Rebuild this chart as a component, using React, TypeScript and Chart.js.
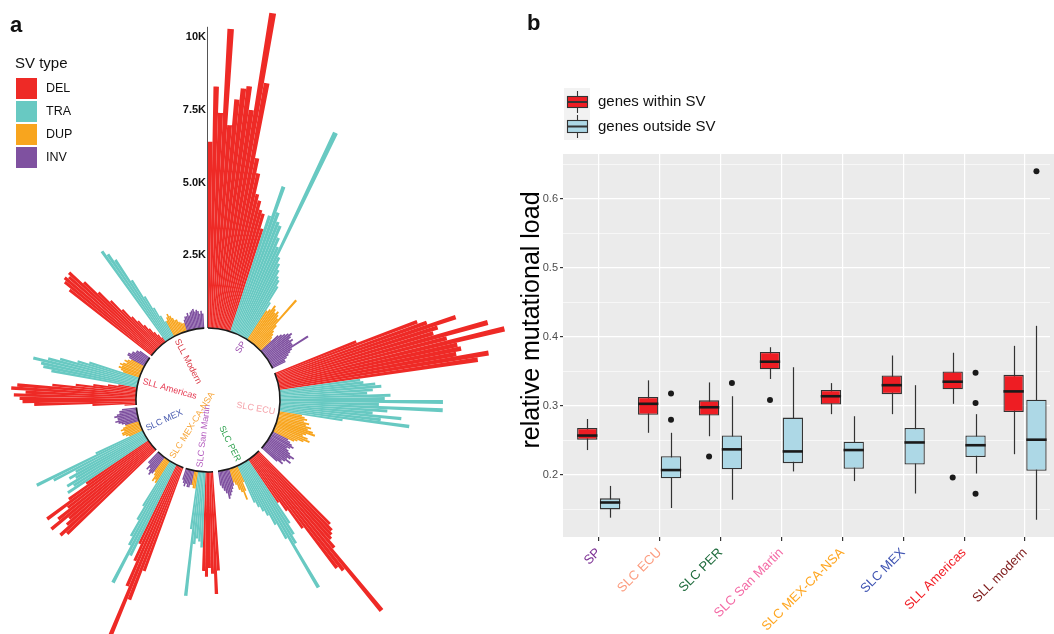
import React, { useEffect, useRef } from 'react';
import { Chart, registerables } from 'chart.js';
Chart.register(...registerables);

const FONT = '"Liberation Sans", Arial, Helvetica, sans-serif';
Chart.defaults.font.family = FONT;

// ---------------- Panel a data (values in thousands) ----------------
const GROUPS = ['SP', 'SLC ECU', 'SLC PER', 'SLC San Martin', 'SLC MEX-CA-NSA', 'SLC MEX', 'SLL Americas', 'SLL Modern'];
const GROUP_LABEL_COLORS = ['#9B4DAE', '#F5A3AA', '#33A352', '#B35BBE', '#F7A63A', '#4A5CB0', '#E63A52', '#DA3A46'];
const SV_TYPES = ['DEL', 'TRA', 'DUP', 'INV'];
const SV_COLORS = ['#EE2A26', '#68C9C2', '#F8A51E', '#7F51A0'];

const DEL_K = [
  [6.4, 8.3, 7.4, 10.3, 7.0, 7.9, 8.3, 8.4, 7.6, 11.0, 8.6, 6.0, 5.5, 4.8, 4.6, 4.3, 4.2, 3.7],
  [3.0, 5.2, 5.5, 6.5, 5.8, 5.6, 7.5, 6.0, 8.0, 6.3, 6.4, 6.2, 7.3, 6.9],
  [3.5, 3.7, 3.8, 3.9, 4.2, 6.9, 5.0, 4.8, 3.0, 2.2, 1.8],
  [3.4, 4.2, 3.5, 3.3, 3.6, 3.4],
  [3.8, 4.9, 6.3, 4.5, 3.6, 3.0],
  [4.2, 4.4, 4.0, 3.8, 4.5, 4.1, 3.6, 4.4, 3.4, 2.6],
  [0.4, 1.5, 3.5, 3.9, 4.0, 4.2, 3.8, 4.3, 4.1, 2.9, 2.1, 1.5, 1.0, 0.65],
  [3.6, 3.9, 4.0, 3.9, 4.0, 3.4, 2.8, 2.3, 1.8, 1.4, 1.15, 0.9, 0.7, 0.5, 0.35, 0.2],
];
const TRA_K = [
  [4.2, 5.3, 4.4, 4.1, 4.0, 3.6, 3.3, 7.7, 3.0, 2.8, 2.6, 2.4, 2.3, 2.1, 1.5],
  [2.8, 2.9, 3.3, 3.5, 3.2, 3.0, 3.8, 3.6, 5.6, 3.4, 5.6, 3.7, 3.2, 4.2, 3.5, 4.5, 2.2],
  [2.6, 3.0, 3.3, 5.0, 3.0, 2.4, 2.0, 1.8, 1.6, 1.4],
  [2.6, 2.4, 2.3, 2.5, 4.3, 2.0],
  [3.5, 4.6, 3.2, 2.9, 2.3, 1.8],
  [3.3, 3.0, 3.2, 2.8, 3.0, 2.7, 3.5, 4.1, 1.8],
  [3.0, 3.3, 3.4, 3.7, 3.2, 2.8, 2.2, 1.8],
  [3.8, 3.6, 3.3, 2.4, 1.7, 1.2, 0.85, 0.6],
];
const DUP_K = [
  [1.2, 1.3, 1.5, 1.4, 1.3, 1.4, 1.3, 1.2, 2.1, 1.0, 0.8, 0.7, 0.6, 0.5],
  [0.8, 0.9, 1.0, 0.9, 1.1, 1.0, 1.2, 1.1, 1.3, 1.4, 1.1, 1.0, 1.2, 1.3, 1.1, 0.9, 0.8],
  [0.6, 0.9, 1.2, 0.9, 0.8, 0.6, 0.5],
  [0.6, 0.6, 0.5],
  [0.9, 0.8, 0.9, 0.7, 0.6],
  [0.5, 0.6, 0.7, 0.7, 0.6, 0.7, 0.6, 0.5],
  [0.6, 0.7, 0.8, 0.7, 0.8, 0.7, 0.6, 0.7, 0.6, 0.5],
  [0.6, 0.7, 0.8, 0.7, 0.6, 0.5, 0.5, 0.4, 0.35, 0.3, 0.3],
];
const INV_K = [
  [0.8, 0.9, 1.0, 1.1, 1.2, 1.1, 1.0, 1.1, 1.0, 1.0, 1.6, 0.9, 0.8, 0.7, 0.6, 0.5, 0.5],
  [0.6, 0.7, 0.8, 0.9, 0.8, 0.7, 0.8, 0.9, 1.1, 1.0, 0.9, 1.1, 0.9, 0.8, 0.9, 0.7],
  [0.6, 0.7, 0.8, 0.9, 1.0, 0.8, 0.7, 0.6, 0.5],
  [0.5, 0.6, 0.6, 0.5, 0.6, 0.5, 0.4],
  [0.7, 0.8, 0.7, 0.6, 0.7, 0.5, 0.5],
  [0.5, 0.6, 0.7, 0.8, 0.7, 0.7, 0.8, 0.7, 0.6, 0.6, 0.5],
  [0.6, 0.7, 0.7, 0.6, 0.6, 0.5, 0.5, 0.4],
  [0.4, 0.5, 0.5, 0.6, 0.5, 0.6, 0.65, 0.7, 0.6, 0.65, 0.6, 0.5, 0.6, 0.5],
];
const GAP_AFTER = [4, 3, 4, 2, 2, 2, 2, 3];
const RADIAL_TICKS = [2.5, 5, 7.5, 10];
const RADIAL_TICK_LABELS = ['2.5K', '5.0K', '7.5K', '10K'];
const AXIS_TOP_K = 10.35;

// ---------------- Panel b data ----------------
const CATS = ['SP', 'SLC ECU', 'SLC PER', 'SLC San Martin', 'SLC MEX-CA-NSA', 'SLC MEX', 'SLL Americas', 'SLL modern'];
const CAT_COLORS = ['#7B2F93', '#FC9C7F', '#1E6B3C', '#F46BA6', '#FFA620', '#4055B3', '#F21F26', '#7F1D1D'];

const WITHIN_MIN = [0.236, 0.261, 0.256, 0.339, 0.288, 0.288, 0.303, 0.230];
const WITHIN_Q1 = [0.251, 0.287, 0.286, 0.353, 0.302, 0.317, 0.324, 0.291];
const WITHIN_MED = [0.257, 0.303, 0.298, 0.364, 0.314, 0.330, 0.335, 0.321];
const WITHIN_Q3 = [0.268, 0.313, 0.308, 0.378, 0.323, 0.344, 0.350, 0.345];
const WITHIN_MAX = [0.281, 0.337, 0.334, 0.385, 0.333, 0.373, 0.377, 0.387];
const WITHIN_OUT = [[], [], [0.2266], [0.3087], [], [], [0.1961], []];

const OUTSIDE_MIN = [0.138, 0.152, 0.164, 0.205, 0.191, 0.173, 0.202, 0.135];
const OUTSIDE_Q1 = [0.150, 0.195, 0.208, 0.217, 0.209, 0.215, 0.226, 0.206];
const OUTSIDE_MED = [0.160, 0.207, 0.237, 0.234, 0.236, 0.247, 0.243, 0.251];
const OUTSIDE_Q3 = [0.166, 0.227, 0.257, 0.283, 0.248, 0.268, 0.257, 0.309];
const OUTSIDE_MAX = [0.184, 0.261, 0.314, 0.356, 0.285, 0.330, 0.288, 0.416];
const OUTSIDE_OUT = [[], [0.318, 0.280], [0.333], [], [], [], [0.348, 0.304, 0.1725], [0.640]];

const SERIES_NAMES = ['genes within SV', 'genes outside SV'];
const SERIES_COLORS = ['#EE1D23', '#ADD8E6'];
const Y_TITLE = 'relative mutational load';

// ---------------- Panel a chart ----------------
function buildPolar() {
  const values: number[] = [];
  const colors: string[] = [];
  const ranges: { start: number; end: number }[] = [];
  const byType = [DEL_K, TRA_K, DUP_K, INV_K];
  GROUPS.forEach((_, gi) => {
    const start = values.length;
    byType.forEach((arr, ti) => {
      arr[gi].forEach((v) => {
        values.push(v);
        colors.push(SV_COLORS[ti]);
      });
    });
    ranges.push({ start, end: values.length - 1 });
    for (let k = 0; k < GAP_AFTER[gi]; k++) {
      values.push(0);
      colors.push('rgba(0,0,0,0)');
    }
  });
  return { values, colors, ranges };
}

const PX_PER_K = 29.1;
const INNER_R = 72;
const DRAW_R = 200;
const R_MIN = -INNER_R / PX_PER_K;
const R_MAX = R_MIN + DRAW_R / PX_PER_K;

function makePanelA(canvas: HTMLCanvasElement) {
  const { values, colors, ranges } = buildPolar();
  const plugin = {
    id: 'panelA',
    afterDatasetsDraw(chart: any) {
      const ctx = chart.ctx as CanvasRenderingContext2D;
      const sc = chart.scales.r;
      const cx = sc.xCenter;
      const cy = sc.yCenter;
      const r0 = sc.getDistanceFromCenterForValue(0);
      const meta = chart.getDatasetMeta(0);
      ctx.save();
      ctx.beginPath();
      ctx.arc(cx, cy, r0, 0, Math.PI * 2);
      ctx.fillStyle = '#ffffff';
      ctx.fill();
      ranges.forEach((rg, gi) => {
        const a0 = meta.data[rg.start].startAngle;
        const a1 = meta.data[rg.end].endAngle;
        ctx.beginPath();
        ctx.arc(cx, cy, r0, a0, a1);
        ctx.lineWidth = 1.6;
        ctx.strokeStyle = '#1a1a1a';
        ctx.stroke();
        const mid = (a0 + a1) / 2;
        const deg = ((mid * 180) / Math.PI + 90 + 360) % 360;
        const rr = r0 - 4;
        ctx.save();
        ctx.translate(cx + rr * Math.cos(mid), cy + rr * Math.sin(mid));
        if (deg < 180) {
          ctx.rotate(mid);
          ctx.textAlign = 'right';
        } else {
          ctx.rotate(mid + Math.PI);
          ctx.textAlign = 'left';
        }
        ctx.textBaseline = 'middle';
        ctx.font = `9px ${FONT}`;
        ctx.fillStyle = GROUP_LABEL_COLORS[gi];
        ctx.fillText(GROUPS[gi], 0, 0);
        ctx.restore();
      });
      // radial axis
      ctx.beginPath();
      ctx.moveTo(cx - 0.5, cy - r0);
      ctx.lineTo(cx - 0.5, cy - sc.getDistanceFromCenterForValue(AXIS_TOP_K));
      ctx.lineWidth = 1;
      ctx.strokeStyle = '#555';
      ctx.stroke();
      ctx.font = `bold 11px ${FONT}`;
      ctx.fillStyle = '#111';
      ctx.textAlign = 'right';
      ctx.textBaseline = 'middle';
      RADIAL_TICKS.forEach((t, i) => {
        ctx.fillText(RADIAL_TICK_LABELS[i], cx - 2, cy - sc.getDistanceFromCenterForValue(t));
      });
      // legend
      ctx.textAlign = 'left';
      ctx.textBaseline = 'alphabetic';
      ctx.font = `bold 22px ${FONT}`;
      ctx.fillStyle = '#111';
      ctx.fillText('a', 10, 32);
      ctx.font = `15px ${FONT}`;
      ctx.fillText('SV type', 15, 68);
      SV_TYPES.forEach((t, i) => {
        const y = 78 + i * 23;
        ctx.fillStyle = SV_COLORS[i];
        ctx.fillRect(16, y, 21, 21);
        ctx.fillStyle = '#111';
        ctx.font = `12.5px ${FONT}`;
        ctx.textBaseline = 'middle';
        ctx.fillText(t, 46, y + 11);
      });
      ctx.restore();
    },
  };
  return new Chart(canvas, {
    type: 'polarArea',
    data: {
      labels: values.map(() => ''),
      datasets: [{ data: values, backgroundColor: colors, borderWidth: 0, clip: false } as any],
    },
    options: {
      responsive: false,
      animation: false,
      events: [],
      layout: { padding: { left: 8, right: 112, top: 200, bottom: 34 } },
      plugins: { legend: { display: false }, tooltip: { enabled: false } },
      scales: { r: { display: false, min: R_MIN, max: R_MAX, beginAtZero: false } as any },
    } as any,
    plugins: [plugin],
  });
}

// ---------------- Panel b chart ----------------
const isMajor = (v: number) => Math.abs(v * 10 - Math.round(v * 10)) < 1e-6;

function makePanelB(canvas: HTMLCanvasElement) {
  const stats = [
    { min: WITHIN_MIN, med: WITHIN_MED, max: WITHIN_MAX },
    { min: OUTSIDE_MIN, med: OUTSIDE_MED, max: OUTSIDE_MAX },
  ];
  const box = (q1: number[], q3: number[]) => q1.map((v, i) => ({ x: i, y: [v, q3[i]] }));
  const outs = (o: number[][], dx: number) => o.flatMap((arr, i) => arr.map((v) => ({ x: i + dx, y: v })));
  const plugin = {
    id: 'panelB',
    beforeDraw(chart: any) {
      const { ctx, chartArea: a } = chart;
      ctx.save();
      ctx.fillStyle = '#EBEBEB';
      ctx.fillRect(a.left, a.top, chart.width - a.left, a.bottom - a.top);
      ctx.restore();
    },
    beforeDatasetsDraw(chart: any) {
      const ctx = chart.ctx;
      const y = chart.scales.y;
      ctx.save();
      ctx.strokeStyle = '#333';
      ctx.lineWidth = 1.2;
      [0, 1].forEach((d) => {
        const meta = chart.getDatasetMeta(d);
        meta.data.forEach((el: any, i: number) => {
          const x = Math.round(el.x) + 0.5;
          ctx.beginPath();
          ctx.moveTo(x, y.getPixelForValue(stats[d].max[i]));
          ctx.lineTo(x, y.getPixelForValue(stats[d].min[i]));
          ctx.stroke();
        });
      });
      ctx.restore();
    },
    afterDatasetsDraw(chart: any) {
      const ctx = chart.ctx;
      const y = chart.scales.y;
      ctx.save();
      ctx.strokeStyle = '#1a1a1a';
      ctx.lineWidth = 2.6;
      [0, 1].forEach((d) => {
        const meta = chart.getDatasetMeta(d);
        meta.data.forEach((el: any, i: number) => {
          const py = y.getPixelForValue(stats[d].med[i]);
          ctx.beginPath();
          ctx.moveTo(el.x - el.width / 2, py);
          ctx.lineTo(el.x + el.width / 2, py);
          ctx.stroke();
        });
      });
      ctx.restore();
    },
    afterDraw(chart: any) {
      const ctx = chart.ctx as CanvasRenderingContext2D;
      ctx.save();
      ctx.fillStyle = '#111';
      ctx.font = `bold 22px ${FONT}`;
      ctx.textBaseline = 'alphabetic';
      ctx.fillText('b', 7, 30);
      // y axis title
      ctx.save();
      ctx.translate(12, 320);
      ctx.rotate(-Math.PI / 2);
      ctx.font = `25px ${FONT}`;
      ctx.fillStyle = '#000';
      ctx.textAlign = 'center';
      ctx.textBaseline = 'middle';
      ctx.fillText(Y_TITLE, 0, 0);
      ctx.restore();
      // legend
      ctx.fillStyle = '#F2F2F2';
      ctx.fillRect(44, 88, 26, 52);
      const icon = [
        { top: 96, h: 12 },
        { top: 120, h: 13 },
      ];
      icon.forEach((ic, i) => {
        ctx.strokeStyle = '#333';
        ctx.lineWidth = 1.1;
        ctx.beginPath();
        ctx.moveTo(57.5, ic.top - 5);
        ctx.lineTo(57.5, ic.top + ic.h + 5);
        ctx.stroke();
        ctx.fillStyle = SERIES_COLORS[i];
        ctx.fillRect(47, ic.top, 21, ic.h);
        ctx.strokeRect(47.5, ic.top + 0.5, 20, ic.h - 1);
        ctx.lineWidth = 2;
        ctx.beginPath();
        ctx.moveTo(47, ic.top + ic.h / 2);
        ctx.lineTo(68, ic.top + ic.h / 2);
        ctx.stroke();
        ctx.fillStyle = '#111';
        ctx.font = `15px ${FONT}`;
        ctx.textAlign = 'left';
        ctx.textBaseline = 'middle';
        ctx.fillText(SERIES_NAMES[i], 78, ic.top + ic.h / 2);
      });
      ctx.restore();
    },
  };
  const barCommon = {
    borderColor: '#333333',
    borderWidth: 1.3,
    borderSkipped: false,
    categoryPercentage: 0.75,
    barPercentage: 0.89,
  };
  const pointCommon = {
    type: 'scatter',
    pointRadius: 3,
    backgroundColor: '#1a1a1a',
    borderColor: '#1a1a1a',
    borderWidth: 0,
    showLine: false,
  };
  return new Chart(canvas, {
    type: 'bar',
    data: {
      datasets: [
        { label: SERIES_NAMES[0], data: box(WITHIN_Q1, WITHIN_Q3), backgroundColor: SERIES_COLORS[0], ...barCommon },
        { label: SERIES_NAMES[1], data: box(OUTSIDE_Q1, OUTSIDE_Q3), backgroundColor: SERIES_COLORS[1], ...barCommon },
        { data: outs(WITHIN_OUT, -0.1875), ...pointCommon },
        { data: outs(OUTSIDE_OUT, 0.1875), ...pointCommon },
      ] as any,
    },
    options: {
      responsive: false,
      animation: false,
      events: [],
      layout: { padding: { top: 154, left: 0, right: 0, bottom: 0 } },
      plugins: { legend: { display: false }, tooltip: { enabled: false } },
      scales: {
        x: {
          type: 'linear',
          min: -0.586,
          max: 7.41,
          offset: false,
          border: { display: false },
          grid: { offset: false, color: '#ffffff', lineWidth: 1.2, tickColor: '#333333', tickLength: 4 },
          ticks: {
            stepSize: 1,
            includeBounds: false,
            autoSkip: false,
            minRotation: 45,
            maxRotation: 45,
            padding: 4,
            font: { size: 13 },
            color: (c: any) => CAT_COLORS[c.tick ? c.tick.value : 0] || '#333',
            callback: (v: any) => CATS[v] ?? '',
          },
          afterFit: (s: any) => {
            s.height = 97;
            s.paddingRight = 0;
          },
        },
        y: {
          min: 0.11,
          max: 0.665,
          border: { display: false },
          grid: {
            color: '#ffffff',
            lineWidth: (c: any) => (c.tick && isMajor(c.tick.value) ? 1.2 : 0.6),
            tickColor: (c: any) => (c.tick && isMajor(c.tick.value) ? '#333333' : 'rgba(0,0,0,0)'),
            tickLength: 3,
          },
          ticks: {
            stepSize: 0.05,
            includeBounds: false,
            padding: 2,
            color: '#4D4D4D',
            font: { size: 11 },
            callback: (v: any) => (isMajor(v) ? Number(v).toFixed(1) : ''),
          },
          title: { display: false },
          afterFit: (s: any) => {
            s.width = 43;
          },
        },
      },
    } as any,
    plugins: [plugin],
  });
}

export default function App() {
  const aRef = useRef<HTMLCanvasElement>(null);
  const bRef = useRef<HTMLCanvasElement>(null);
  useEffect(() => {
    const ca = makePanelA(aRef.current as HTMLCanvasElement);
    const cb = makePanelB(bRef.current as HTMLCanvasElement);
    return () => {
      ca.destroy();
      cb.destroy();
    };
  }, []);
  return (
    <div style={{ position: 'fixed', left: 0, top: 0, width: 1054, height: 634, overflow: 'hidden', background: '#fff' }}>
      <canvas ref={aRef} width={520} height={634} style={{ position: 'absolute', left: 0, top: 0, width: 520, height: 634 }} />
      <canvas ref={bRef} width={534} height={634} style={{ position: 'absolute', left: 520, top: 0, width: 534, height: 634 }} />
    </div>
  );
}
